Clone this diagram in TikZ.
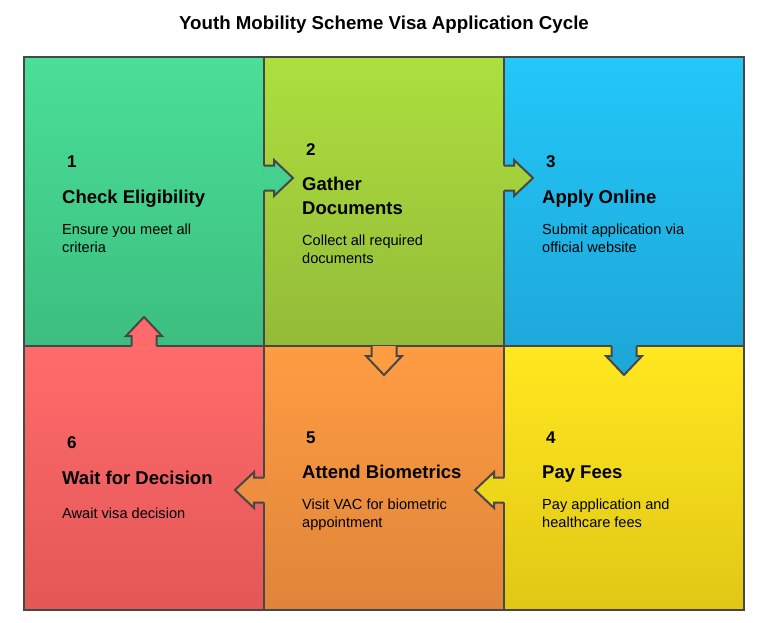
\documentclass[tikz,border=0pt]{standalone}
\usepackage{fontspec}
\setmainfont{Liberation Sans}
\usetikzlibrary{calc}

\definecolor{edgegray}{HTML}{474747}
\definecolor{greentop}{HTML}{4ADF97}
\definecolor{greenbot}{HTML}{3CBE80}
\definecolor{limetop}{HTML}{ACDF3E}
\definecolor{limebot}{HTML}{94BB38}
\definecolor{bluetop}{HTML}{22C8F8}
\definecolor{bluebot}{HTML}{1EA8DA}
\definecolor{yellowtop}{HTML}{FFE81F}
\definecolor{yellowbot}{HTML}{E0C716}
\definecolor{orangetop}{HTML}{FE9C42}
\definecolor{orangebot}{HTML}{DF853A}
\definecolor{redtop}{HTML}{FF6B6B}
\definecolor{redbot}{HTML}{E35757}

\tikzset{
  cell/.style={minimum width=240pt, minimum height=#1, inner sep=0pt, outer sep=0pt},
  grid/.style={draw=edgegray, line width=2pt},
  flowline/.style={draw=edgegray, line width=2pt, line join=miter},
  num/.style={anchor=base west, inner sep=0pt, font=\bfseries\fontsize{17}{20}\selectfont},
  head/.style={anchor=base west, inner sep=0pt, align=left, font=\bfseries\fontsize{18.5}{23.5}\selectfont},
  desc/.style={anchor=base west, inner sep=0pt, align=left, font=\fontsize{14.6}{17.8}\selectfont},
}

\newcommand\cyclearrow[3]{%
  \fill[#3, shift={(#1)}, rotate=#2] (-1.5,-12.5) -- (10,-12.5) -- (10,-18) -- (29,0) -- (10,18) -- (10,12.5) -- (-1.5,12.5) -- cycle;
  \draw[flowline, shift={(#1)}, rotate=#2] (0,-12.5) -- (10,-12.5) -- (10,-18) -- (29,0) -- (10,18) -- (10,12.5) -- (0,12.5);
}

\begin{document}
\begin{tikzpicture}[x=1pt, y=-1pt]
	\useasboundingbox (0,0) rectangle (768,623);

	\node (title) [anchor=base, inner sep=0pt, font=\bfseries\fontsize{18.7}{22}\selectfont] at (384,30) {Youth Mobility Scheme Visa Application Cycle};

	\node (c1) [cell=289pt, top color=greentop, bottom color=greenbot] at (144,201.5) {};
	\node (c2) [cell=289pt, top color=limetop, bottom color=limebot] at (384,201.5) {};
	\node (c3) [cell=289pt, top color=bluetop, bottom color=bluebot] at (624,201.5) {};
	\node (c6) [cell=264pt, top color=redtop, bottom color=redbot] at (144,478) {};
	\node (c5) [cell=264pt, top color=orangetop, bottom color=orangebot] at (384,478) {};
	\node (c4) [cell=264pt, top color=yellowtop, bottom color=yellowbot] at (624,478) {};

	\draw[grid] (c1.north west) rectangle (c4.south east);
	\draw[grid] (c1.north east) -- (c6.south east);
	\draw[grid] (c2.north east) -- (c5.south east);
	\draw[grid] (c6.north west) -- (c4.north east);

	\coordinate (a12) at ([yshift=23.5pt]c1.east);
	\coordinate (a23) at ([yshift=23.5pt]c2.east);
	\coordinate (a34) at (c3.south);
	\coordinate (a45) at ([yshift=-12pt]c4.west);
	\coordinate (a56) at ([yshift=-12pt]c5.west);
	\coordinate (a61) at (c6.north);

	\cyclearrow{a12}{0}{greentop!55!greenbot}
	\cyclearrow{a23}{0}{limetop!60!limebot}
	\cyclearrow{a34}{-90}{bluebot}
	\cyclearrow{a45}{180}{yellowtop!45!yellowbot}
	\cyclearrow{a56}{180}{orangetop!45!orangebot}
	\cyclearrow{a61}{90}{redtop}
	\filldraw[flowline, fill=orangetop] (c2.south) ++(-12.5,0) -- ++(0,10) -- ++(-5.5,0) -- ++(18,19) -- ++(18,-19) -- ++(-5.5,0) -- ++(0,-10);

	\node (n1) [num] at (67,167) {1};
	\node (h1) [head] at (62,203) {Check Eligibility};
	\node (d1) [desc] at (62,252) {Ensure you meet all\\criteria};

	\node (n2) [num] at (306,155) {2};
	\node (h2) [head] at (302,214) {Gather\\Documents};
	\node (d2) [desc] at (302,263) {Collect all required\\documents};

	\node (n3) [num] at (546,167) {3};
	\node (h3) [head] at (542,203) {Apply Online};
	\node (d3) [desc] at (542,252) {Submit application via\\official website};

	\node (n4) [num] at (546,443) {4};
	\node (h4) [head] at (542,478) {Pay Fees};
	\node (d4) [desc] at (542,527) {Pay application and\\healthcare fees};

	\node (n5) [num] at (306,443) {5};
	\node (h5) [head] at (302,478) {Attend Biometrics};
	\node (d5) [desc] at (302,527) {Visit VAC for biometric\\appointment};

	\node (n6) [num] at (67,448) {6};
	\node (h6) [head] at (62,484) {Wait for Decision};
	\node (d6) [desc] at (62,518) {Await visa decision};
\end{tikzpicture}
\end{document}
